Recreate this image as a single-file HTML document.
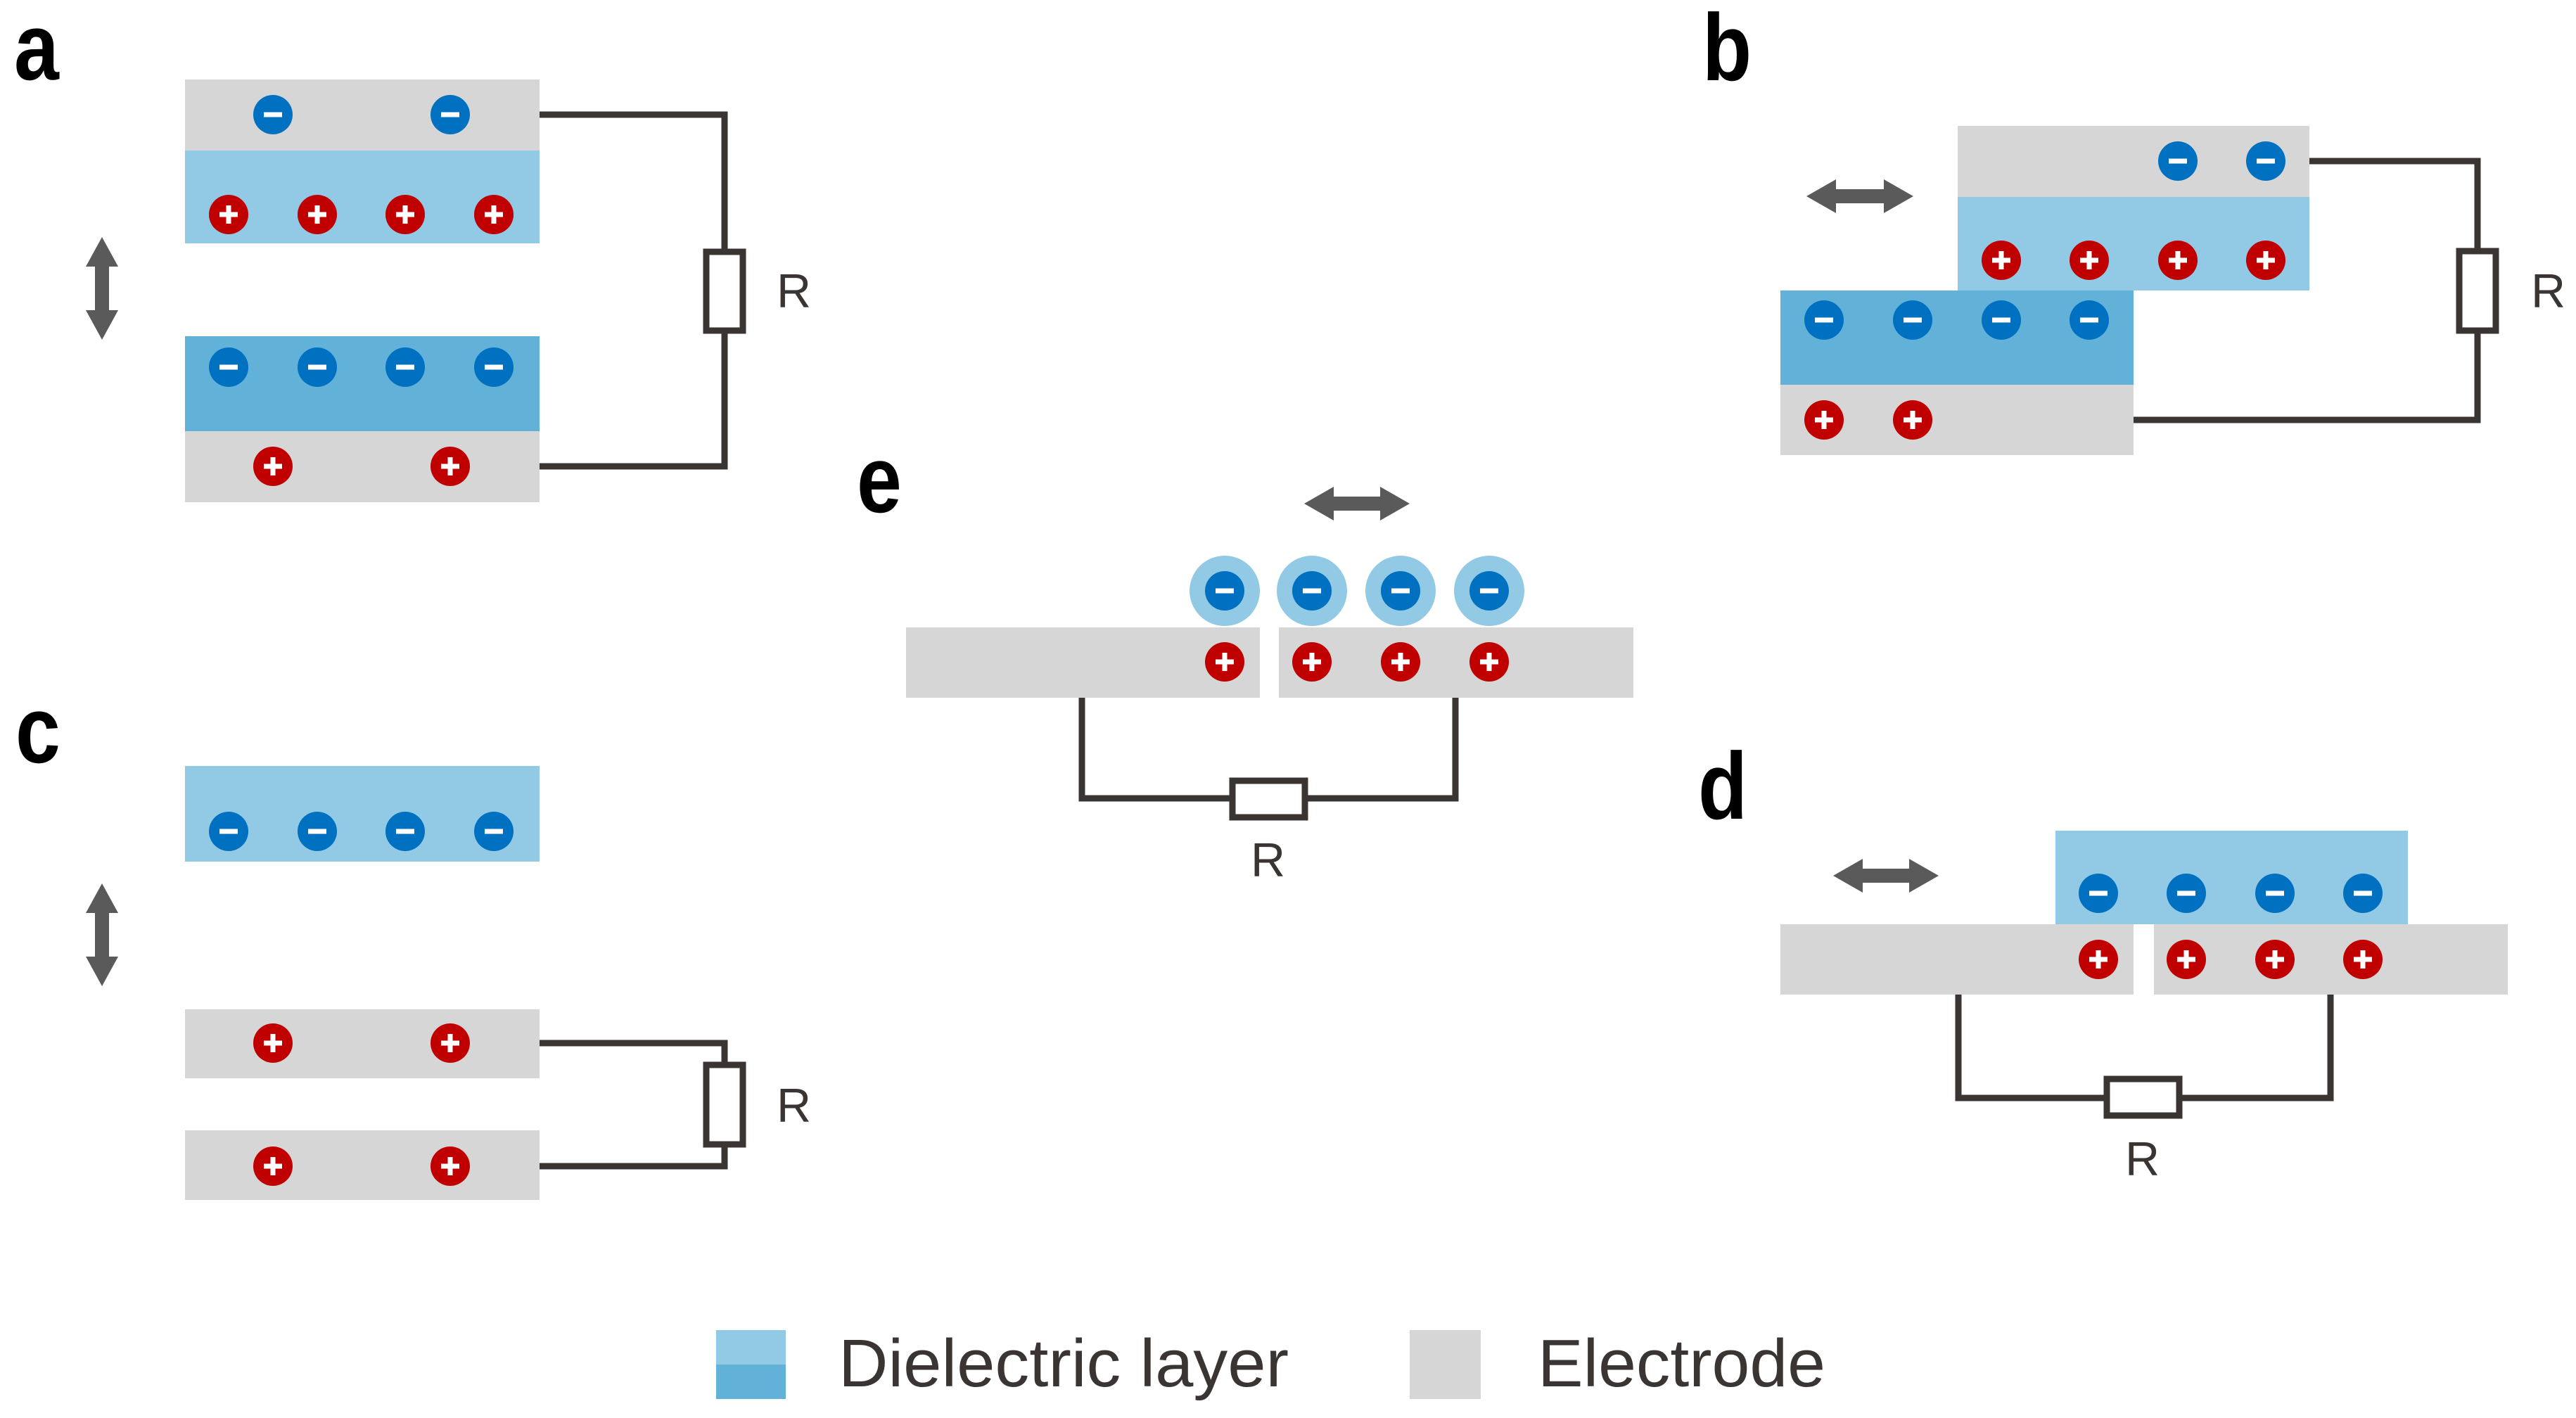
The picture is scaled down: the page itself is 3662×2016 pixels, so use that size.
<!DOCTYPE html>
<html><head><meta charset="utf-8"><style>
html,body{margin:0;padding:0;background:#fff;}
svg{display:block;}
.lbl{font-family:"Liberation Sans",sans-serif;font-weight:bold;fill:#000;}
.r{font-family:"Liberation Sans",sans-serif;fill:#3a3533;font-size:68px;}
.lg{font-family:"Liberation Sans",sans-serif;fill:#3a3533;font-size:96px;}
</style></head><body>
<svg width="3662" height="2016" viewBox="0 0 3662 2016" xmlns="http://www.w3.org/2000/svg">
<defs>
<g id="m"><circle r="28" fill="#0070c0"/><rect x="-13" y="-3.5" width="26" height="7" fill="#fff"/></g>
<g id="p"><circle r="28" fill="#c00000"/><rect x="-13" y="-3.5" width="26" height="7" fill="#fff"/><rect x="-3.5" y="-13" width="7" height="26" fill="#fff"/></g>
<g id="mh"><circle r="50" fill="#92c9e5"/><circle r="28" fill="#0070c0"/><rect x="-13" y="-3.5" width="26" height="7" fill="#fff"/></g>
</defs>
<g fill="none" stroke="#3a3533" stroke-width="9">
<polyline points="767,163 1030,163 1030,358"/><polyline points="1030,470 1030,663 767,663"/>
<rect x="1004" y="358" width="52" height="112" fill="#fff"/>
<polyline points="3283,229 3522,229 3522,357"/><polyline points="3522,470 3522,597 3033,597"/>
<rect x="3496" y="357" width="52" height="113" fill="#fff"/>
<polyline points="767,1483 1030,1483 1030,1514"/><polyline points="1030,1627 1030,1658 767,1658"/>
<rect x="1004" y="1514" width="52" height="113" fill="#fff"/>
<polyline points="1538,992 1538,1135 1748,1135"/><polyline points="1859,1135 2069,1135 2069,992"/>
<rect x="1752" y="1110" width="103" height="52" fill="#fff"/>
<polyline points="2784,1414 2784,1561 2991,1561"/><polyline points="3102,1561 3313,1561 3313,1414"/>
<rect x="2995" y="1534" width="103" height="52" fill="#fff"/>
</g>
<rect x="263" y="113" width="504" height="101" fill="#d6d6d6"/>
<rect x="263" y="214" width="504" height="132" fill="#92c9e5"/>
<rect x="263" y="478" width="504" height="135" fill="#62b1d8"/>
<rect x="263" y="613" width="504" height="101" fill="#d6d6d6"/>
<use href="#m" x="388" y="163"/><use href="#m" x="640" y="163"/>
<use href="#p" x="325" y="305"/><use href="#p" x="451" y="305"/><use href="#p" x="576" y="305"/><use href="#p" x="702" y="305"/>
<use href="#m" x="325" y="522"/><use href="#m" x="451" y="522"/><use href="#m" x="576" y="522"/><use href="#m" x="702" y="522"/>
<use href="#p" x="388" y="663"/><use href="#p" x="640" y="663"/>
<rect x="2783" y="179" width="500" height="101" fill="#d6d6d6"/>
<rect x="2783" y="280" width="500" height="133" fill="#92c9e5"/>
<rect x="2531" y="413" width="502" height="134" fill="#62b1d8"/>
<rect x="2531" y="547" width="502" height="100" fill="#d6d6d6"/>
<use href="#m" x="3096" y="229"/><use href="#m" x="3221" y="229"/>
<use href="#p" x="2845" y="370"/><use href="#p" x="2970" y="370"/><use href="#p" x="3096" y="370"/><use href="#p" x="3221" y="370"/>
<use href="#m" x="2593" y="455"/><use href="#m" x="2719" y="455"/><use href="#m" x="2845" y="455"/><use href="#m" x="2970" y="455"/>
<use href="#p" x="2593" y="597"/><use href="#p" x="2719" y="597"/>
<rect x="263" y="1089" width="504" height="136" fill="#92c9e5"/>
<use href="#m" x="325" y="1182"/><use href="#m" x="451" y="1182"/><use href="#m" x="576" y="1182"/><use href="#m" x="702" y="1182"/>
<rect x="263" y="1435" width="504" height="98" fill="#d6d6d6"/>
<rect x="263" y="1607" width="504" height="99" fill="#d6d6d6"/>
<use href="#p" x="388" y="1483"/><use href="#p" x="640" y="1483"/>
<use href="#p" x="388" y="1658"/><use href="#p" x="640" y="1658"/>
<rect x="1288" y="892" width="503" height="100" fill="#d6d6d6"/>
<rect x="1818" y="892" width="504" height="100" fill="#d6d6d6"/>
<use href="#mh" x="1741" y="840"/><use href="#mh" x="1865" y="840"/><use href="#mh" x="1991" y="840"/><use href="#mh" x="2117" y="840"/>
<use href="#p" x="1741" y="941"/><use href="#p" x="1865" y="941"/><use href="#p" x="1991" y="941"/><use href="#p" x="2117" y="941"/>
<rect x="2922" y="1181" width="501" height="133" fill="#92c9e5"/>
<rect x="2531" y="1314" width="502" height="100" fill="#d6d6d6"/>
<rect x="3062" y="1314" width="503" height="100" fill="#d6d6d6"/>
<use href="#m" x="2983" y="1270"/><use href="#m" x="3108" y="1270"/><use href="#m" x="3234" y="1270"/><use href="#m" x="3359" y="1270"/>
<use href="#p" x="2983" y="1364"/><use href="#p" x="3108" y="1364"/><use href="#p" x="3234" y="1364"/><use href="#p" x="3359" y="1364"/>
<g fill="#5a5a5a">
<polygon points="145,337 168,379 155,379 155,441 168,441 145,483 122,441 135,441 135,379 122,379"/>
<polygon points="145,1256 168,1298 155,1298 155,1360 168,1360 145,1402 122,1360 135,1360 135,1298 122,1298"/>
<polygon points="2568,279 2610,255 2610,269 2678,269 2678,255 2720,279 2678,303 2678,289 2610,289 2610,303"/>
<polygon points="1854,716 1896,692 1896,706 1962,706 1962,692 2004,716 1962,740 1962,726 1896,726 1896,740"/>
<polygon points="2606,1245 2648,1221 2648,1235 2714,1235 2714,1221 2756,1245 2714,1269 2714,1255 2648,1255 2648,1269"/>
</g>
<text class="r" x="1104" y="437">R</text>
<text class="r" x="3598" y="437">R</text>
<text class="r" x="1104" y="1595">R</text>
<text class="r" x="1778" y="1246">R</text>
<text class="r" x="3021" y="1671">R</text>
<text class="lbl" font-size="135" transform="translate(20,113) scale(0.85,1)">a</text>
<text class="lbl" font-size="135" transform="translate(2420,114) scale(0.85,1)">b</text>
<text class="lbl" font-size="135" transform="translate(22,1084) scale(0.85,1)">c</text>
<text class="lbl" font-size="135" transform="translate(1218,728) scale(0.85,1)">e</text>
<text class="lbl" font-size="135" transform="translate(2414,1164) scale(0.85,1)">d</text>
<rect x="1018" y="1891" width="99" height="49" fill="#92c9e5"/>
<rect x="1018" y="1940" width="99" height="49" fill="#62b1d8"/>
<text class="lg" x="1192" y="1971" textLength="640" lengthAdjust="spacingAndGlyphs">Dielectric layer</text>
<rect x="2004" y="1891" width="101" height="98" fill="#d6d6d6"/>
<text class="lg" x="2186" y="1971" textLength="409" lengthAdjust="spacingAndGlyphs">Electrode</text>
</svg>
</body></html>
